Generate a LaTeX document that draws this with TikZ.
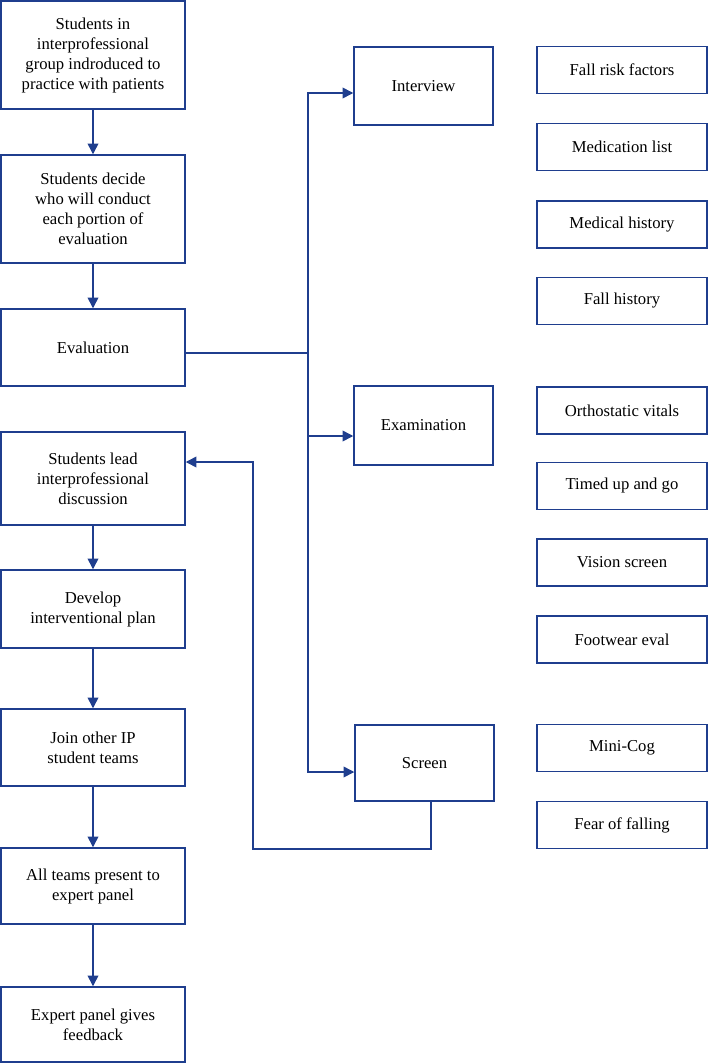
\documentclass[tikz,border=0pt]{standalone}
\usepackage{fontspec}
\setmainfont{Liberation Serif}
\usepackage{xcolor}
\definecolor{flowblue}{HTML}{1F3E8E}
\usetikzlibrary{positioning,arrows.meta,calc}

\begin{document}
\begin{tikzpicture}[
      x=0.75pt, y=-0.75pt,
      box/.style={rectangle, draw=flowblue, line width=1.1pt, fill=white,
                  align=center, inner sep=2pt, font=\fontsize{12.5}{15}\selectfont},
      stepbox/.style={box, minimum width=138pt},
      partbox/.style={box, minimum width=104.25pt},
      itembox/.style={box, minimum width=127.5pt, minimum height=35pt},
      flow/.style={-{Triangle[length=8pt,width=8pt]}, line width=1.1pt, flowblue},
      link/.style={line width=1.1pt, flowblue},
    ]
    \useasboundingbox (0,0) rectangle (709,1063);

    % left column: course steps
    \node[stepbox, minimum height=81pt] (intro) at (93,55) {Students in\\interprofessional\\group indroduced to\\practice with patients};
    \node[stepbox, minimum height=81pt] (decide) at (93,209) {Students decide\\who will conduct\\each portion of\\evaluation};
    \node[stepbox, minimum height=57.75pt] (eval) at (93,347.5) {Evaluation};
    \node[stepbox, minimum height=69.75pt] (lead) at (93,478.5) {Students lead\\interprofessional\\discussion};
    \node[stepbox, minimum height=58.5pt] (plan) at (93,609) {Develop\\interventional plan};
    \node[stepbox, minimum height=57.75pt] (join) at (93,747.5) {Join other IP\\student teams};
    \node[stepbox, minimum height=57pt] (present) at (93,886) {All teams present to\\expert panel};
    \node[stepbox, minimum height=56.25pt] (feedback) at (93,1024.5) {Expert panel gives\\feedback};

    % middle column: parts of the evaluation
    \node[partbox, minimum height=58.5pt] (interview) at (423.5,86) {Interview};
    \node[partbox, minimum height=59.25pt] (exam) at (423.5,425.5) {Examination};
    \node[partbox, minimum height=57pt] (screen) at (424.5,763) {Screen};

    % right column: items
    \node[itembox] (riskfac) at (622,70) {Fall risk factors};
    \node[itembox] (medlist) at (622,147) {Medication list};
    \node[itembox] (medhist) at (622,224.5) {Medical history};
    \node[itembox] (fallhist) at (622,301) {Fall history};
    \node[itembox] (ortho) at (622,410.5) {Orthostatic vitals};
    \node[itembox] (tug) at (622,486) {Timed up and go};
    \node[itembox] (vision) at (622,562.5) {Vision screen};
    \node[itembox] (footwear) at (622,639.5) {Footwear eval};
    \node[itembox] (minicog) at (622,748) {Mini-Cog};
    \node[itembox] (fear) at (622,825) {Fear of falling};

    \coordinate (hub) at (308,353);
    \coordinate (back) at (253,849);

    \draw[flow] (intro) -- (decide);
    \draw[flow] (decide) -- (eval);
    \draw[flow] (lead) -- (plan);
    \draw[flow] (plan) -- (join);
    \draw[flow] (join) -- (present);
    \draw[flow] (present) -- (feedback);

    \draw[link] (eval.east |- hub) -- (hub);
    \draw[flow] (hub) |- ($(interview.west)+(0,7)$);
    \draw[flow] (hub) |- ($(exam.west)+(0,10.5)$);
    \draw[flow] (hub) |- ($(screen.west)+(0,9)$);
    \draw[flow] ($(screen.south)+(6.5,0)$) |- (back) |- ($(lead.east)+(0,-16.5)$);
  \end{tikzpicture}
\end{document}
